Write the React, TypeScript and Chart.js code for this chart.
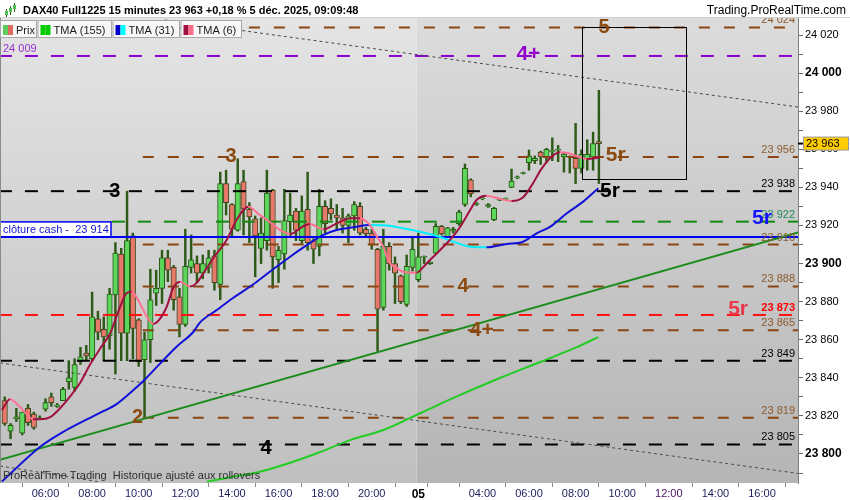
import React, { useEffect, useRef } from 'react';
import { Chart, registerables } from 'chart.js';

Chart.register(...registerables);

const FONT = 'Arial, "Liberation Sans", Helvetica, sans-serif';

// 15-minute bars. Index 0 = 4 Dec 04:15 ... index 70 = 21:45; index 71 = 5 Dec 01:15 ... index 102 = 09:00
const opens = [
  23828, 23812, 23818.5, 23811, 23824, 23821, 23818.5, 23823.5, 23830, 23825,
  23828, 23838, 23835, 23848.5, 23853, 23850, 23871, 23865.5, 23862, 23883.5,
  23905, 23863.5, 23914.5, 23870.5, 23849.5, 23860, 23884.5, 23887, 23903, 23898,
  23882.5, 23868, 23898, 23900, 23895, 23898, 23904, 23889, 23942, 23931,
  23917.5, 23943, 23928.5, 23923.5, 23908, 23912, 23938.5, 23902, 23905, 23922,
  23927.5, 23912, 23928.5, 23912, 23909, 23930, 23929, 23925.5, 23924, 23920,
  23925, 23930, 23918, 23916, 23907.5, 23877, 23909, 23900, 23893.5, 23878.5,
  23898, 23891.5, 23903.3, 23900, 23905.5, 23919.5, 23914, 23917, 23921, 23931,
  23944, 23931, 23934, 23930, 23923, 23933.3, 23933.8, 23940, 23945, 23947.3,
  23953, 23954, 23958.5, 23956, 23958.8, 23959.5, 23956, 23955.8, 23955.3, 23950,
  23955, 23956, 23964,
];
const highs = [
  23830, 23816, 23824, 23822, 23826, 23822, 23820, 23829, 23832, 23826.5,
  23835, 23849, 23850, 23856, 23857, 23885, 23875, 23872, 23887, 23911,
  23908, 23938, 23916, 23871, 23864, 23897, 23896.5, 23907, 23907, 23899,
  23887, 23918, 23915, 23904, 23904.5, 23907, 23907, 23948, 23949, 23931.5,
  23955, 23949, 23932, 23925, 23924, 23949, 23939, 23909, 23939, 23937,
  23929, 23935.5, 23948, 23913, 23939, 23933, 23934, 23931, 23929, 23926,
  23932.5, 23932, 23919, 23918, 23908, 23918, 23911, 23903.5, 23894, 23904.5,
  23913.3, 23916, 23904, 23901, 23921, 23920, 23919, 23919, 23928, 23952.3,
  23944.5, 23932, 23935, 23931.5, 23929.5, 23934, 23934.5, 23949.6, 23946, 23948,
  23959.6, 23956.5, 23959, 23960.5, 23966, 23962, 23958, 23956.5, 23973.6, 23959.7,
  23965, 23969, 23991,
];
const lows = [
  23815, 23808, 23817, 23810, 23815, 23813, 23818, 23822.5, 23825, 23824.5,
  23828, 23834, 23833, 23847, 23849, 23849, 23860, 23849, 23855, 23842,
  23849, 23849, 23850, 23846, 23819, 23848, 23878, 23879, 23890.5, 23875.5,
  23861.5, 23867, 23895, 23890, 23892, 23895, 23886, 23881, 23925.5, 23914,
  23917, 23915, 23911, 23893, 23900, 23907, 23887, 23890, 23897, 23914,
  23912, 23910.5, 23907, 23900, 23904, 23916, 23923, 23917.5, 23916, 23911,
  23917.5, 23915, 23914, 23907.5, 23854, 23875.5, 23896.5, 23879, 23879, 23877.5,
  23896, 23890.5, 23900, 23899.5, 23905, 23915, 23914, 23916, 23920, 23930,
  23935, 23930.5, 23933.5, 23929.5, 23922.5, 23933, 23933.5, 23939.8, 23944.5, 23947,
  23949, 23952.5, 23952, 23953, 23954, 23953.5, 23948, 23947.5, 23942, 23947.5,
  23949, 23949, 23942,
];
const closes = [
  23816, 23815, 23819.5, 23822, 23816.5, 23814, 23819, 23827, 23827, 23825.8,
  23834, 23840, 23847, 23851, 23851.5, 23872, 23864, 23861.5, 23884, 23905.5,
  23863.5, 23912, 23866, 23848.5, 23860, 23881, 23887, 23903, 23896.5, 23881,
  23868, 23898.5, 23902, 23895, 23900, 23903, 23890, 23942, 23932, 23918,
  23942, 23928.5, 23924.5, 23914.5, 23916, 23937, 23903.5, 23907, 23922.5, 23925.5,
  23917.5, 23927.5, 23911, 23907.5, 23930, 23921, 23926, 23924, 23920, 23925,
  23931, 23916, 23915.5, 23910, 23876, 23909, 23900, 23895, 23880, 23898.5,
  23907.5, 23903.5, 23903.8, 23900.8, 23919.5, 23915.5, 23918.8, 23918, 23927, 23950,
  23936.5, 23931.5, 23934.5, 23931, 23929, 23933.8, 23934.3, 23943.3, 23945.5, 23947.8,
  23956.5, 23955.3, 23956, 23960, 23959.3, 23960, 23957.5, 23956.3, 23950, 23957.4,
  23957.4, 23963, 23963,
];

// Moving averages as [bar, price]
const tma6 = [
  [-0.5, 23823.1], [0.9, 23828.7], [2.6, 23824.8], [4.85, 23818.2], [6.1, 23818.2], [7.8, 23819.3],
  [9.5, 23824], [11.2, 23830.1], [12.9, 23837.1], [14.6, 23846.7], [16.4, 23855.5], [18.1, 23863.4],
  [19.8, 23877.3], [20.9, 23884.4], [21.8, 23885.2], [22.9, 23880.9], [24.4, 23872.1], [25.5, 23868.3],
  [26.5, 23870.4], [27.8, 23877.3], [28.9, 23887], [30.1, 23890.5], [31.8, 23888], [33, 23890],
  [34.1, 23894.9], [35.8, 23902.8], [38.1, 23912.4], [39.8, 23922.9], [41.8, 23929.8], [43.8, 23925.5],
  [45.5, 23921.8], [47.3, 23917.6], [49, 23915.5], [51.3, 23919.7], [52.4, 23920.8], [54.7, 23918],
  [57, 23921.1], [59.3, 23923.8], [61, 23923.8], [62.7, 23920.2], [63.9, 23914.1], [65, 23908.8],
  [65.9, 23901], [67, 23898.3], [68.4, 23895.7], [70.7, 23895.2], [71.9, 23898.3], [73, 23901.9],
  [74.2, 23905.4], [75.3, 23908.8], [76.7, 23913.3], [78.2, 23919.3], [79.9, 23928.1], [81, 23933.4],
  [82.7, 23935.6], [84.7, 23934.3], [87, 23932.8], [89, 23934.8], [90.5, 23941.2], [92.2, 23950],
  [93.9, 23956.1], [95.3, 23958.4], [96.8, 23957.9], [98.5, 23956.1], [99.9, 23954.9], [101.3, 23955.3],
  [102.2, 23956.1],
];
const tma31 = [
  [-0.5, 23785.5], [6.1, 23803.8], [10.6, 23812.6], [14.1, 23818.2], [16.4, 23821.7], [19.2, 23826.2],
  [22.1, 23833.6], [23.8, 23838.3], [26.7, 23847.6], [29.5, 23856.3], [32.4, 23864.2], [33.5, 23869],
  [36.4, 23875.6], [39.2, 23881.9], [43, 23889.8], [45.5, 23895.7], [49, 23903.6], [51.8, 23909.5],
  [54.7, 23915], [57, 23917.6], [59.8, 23919], [62.7, 23920.2], [65.6, 23920], [68.4, 23918.5],
  [71.3, 23916.7], [74.2, 23914.5], [77, 23911.5], [79.9, 23908.8], [82.7, 23908.5], [86.2, 23910.3],
  [88.8, 23911.2], [91.3, 23915.9], [93.6, 23919.3], [96.5, 23926.4], [99.3, 23932.5], [101.9, 23939.5],
];
const tma155 = [
  [34.7, 23785.5], [39.2, 23788.1], [43.8, 23790.7], [47.8, 23794.2], [53.6, 23800.4], [59.3, 23807.3],
  [65, 23812.6], [71.3, 23821.4], [78.2, 23831], [85, 23839.9], [91.9, 23848.3], [97.9, 23855.7],
  [101.9, 23861.4],
];

// Drawn trend lines as [bar, price] end points
const supportTrend = [[-0.8, 23797], [136.2, 23916.3]];
const lowerChannel = [[-0.8, 23847.8], [136.2, 23789.8]];
const upperChannel = [[27.5, 24027.9], [136.2, 23982.2]];
const cornerChannel = [[-0.8, 23793.7], [16.4, 23785.3]];

// Horizontal levels
const levelValues = [24024, 24009, 23956, 23938, 23922, 23914, 23910, 23888, 23873, 23865, 23849, 23819, 23805];
const levelKinds = ['brown', 'purple', 'brown', 'black', 'green', 'blue', 'brown', 'brown', 'red', 'brown', 'black', 'brown', 'black'];
const levelFromBar = [-1, -1, 23.7, -1, 18.4, -1, 23.7, 23.7, -1, 23.7, -1, 23.7, -1];

// Wave annotations
const noteTexts = ['3', '3', '2', '4', '4', '4+', '4+', '5', '5r', '5r', '5r', '5r'];
const noteBars = [18.9, 38.85, 22.8, 44.85, 78.7, 81.9, 89.9, 102.9, 104.9, 103.9, 130, 125.9];
const notePrices = [23938, 23956, 23819, 23803, 23888, 23865, 24010, 24024, 23957, 23938, 23924, 23876];
const noteKinds = ['black', 'brown', 'brown', 'black', 'brown', 'brown', 'purple', 'brown', 'brown', 'black', 'blue', 'red'];

// Zone box: bars and prices
const zoneBars = [99.1, 117];
const zonePrices = [23944.4, 24024];

const lastPrice = 23963;
const sessionSplitBar = 70.7;

const timeTickBars = [7, 15, 23, 31, 39, 47, 55, 63, 71, 74, 82, 90, 98, 106, 114, 122, 130];
const timeTickLabels = ['06:00', '08:00', '10:00', '12:00', '14:00', '16:00', '18:00', '20:00', '05', '', '04:00', '06:00', '08:00', '10:00', '12:00', '14:00', '16:00'];

const X_MIN = -0.6395;
const X_MAX = 136.18;
const Y_MIN = 23784.77;
const Y_MAX = 24028.93;

const LINE_COLORS: Record<string, string> = {
  brown: '#8b4513', purple: '#8a00cc', black: '#000000', green: '#138a13', blue: '#0000f0', red: '#ff1414',
};
const TAG_COLORS: Record<string, string> = {
  brown: '#8c5a2e', purple: '#9a30d0', black: '#000000', green: '#1f8a5a', blue: '#1414d0', red: '#ff0000',
};
const NOTE_COLORS: Record<string, string> = {
  brown: '#8b4a10', purple: '#9400cc', black: '#000000', blue: '#1414ff', red: '#e8384a',
};
const DASHES: Record<string, number[]> = {
  brown: [11, 14], purple: [13, 13], black: [13, 13], green: [13, 13], blue: [], red: [13, 13],
};

const CRIMSON = '#a01040';
const PINK = '#ff7094';
const BLUE = '#1010d8';
const CYAN = '#00f0ff';

const fmt = (v: number) => {
  const r = Math.round(v);
  return `${Math.floor(r / 1000)} ${String(r % 1000).padStart(3, '0')}`;
};

const bars = opens.map((_, i) => i);

const priceTicks: number[] = [];
for (let v = 23790; v <= 24020; v += 10) priceTicks.push(v);

const decor = {
  id: 'decor',
  beforeDraw(chart: any) {
    const { ctx, chartArea: a, scales } = chart;
    ctx.save();
    ctx.fillStyle = '#ffffff';
    ctx.fillRect(0, 0, chart.width, chart.height);
    const split = scales.x.getPixelForValue(sessionSplitBar);
    const g1 = ctx.createLinearGradient(0, a.top, 0, a.bottom);
    g1.addColorStop(0, '#e4e4e4');
    g1.addColorStop(1, '#bfbfbf');
    ctx.fillStyle = g1;
    ctx.fillRect(a.left, a.top, split - a.left, a.bottom - a.top);
    const g2 = ctx.createLinearGradient(0, a.top, 0, a.bottom);
    g2.addColorStop(0, '#dcdcdc');
    g2.addColorStop(1, '#b5b5b5');
    ctx.fillStyle = g2;
    ctx.fillRect(split, a.top, a.right - split, a.bottom - a.top);
    ctx.restore();
  },
  afterDraw(chart: any) {
    const { ctx, chartArea: a, scales } = chart;
    const px = (b: number) => scales.x.getPixelForValue(b);
    const py = (v: number) => scales.y.getPixelForValue(v);

    ctx.save();
    ctx.beginPath();
    ctx.rect(a.left, a.top, a.right - a.left, a.bottom - a.top);
    ctx.clip();

    // zone box
    ctx.strokeStyle = '#000';
    ctx.lineWidth = 1;
    const bx0 = Math.round(px(zoneBars[0])) + 0.5;
    const bx1 = Math.round(px(zoneBars[1])) + 0.5;
    const by0 = Math.round(py(zonePrices[1])) + 0.5;
    const by1 = Math.round(py(zonePrices[0])) + 0.5;
    ctx.strokeRect(bx0, by0, bx1 - bx0, by1 - by0);

    // level tags
    ctx.textBaseline = 'alphabetic';
    levelValues.forEach((v, i) => {
      const kind = levelKinds[i];
      const y = py(v);
      if (kind === 'purple') {
        ctx.font = `11px ${FONT}`;
        ctx.fillStyle = TAG_COLORS.purple;
        ctx.textAlign = 'left';
        ctx.fillText(fmt(v), a.left + 2, y - 4);
      } else if (kind === 'blue') {
        const w = 111;
        ctx.fillStyle = '#ffffff';
        ctx.fillRect(a.left - 1, y - 15, w, 14);
        ctx.strokeStyle = LINE_COLORS.blue;
        ctx.lineWidth = 1.5;
        ctx.strokeRect(a.left - 1, y - 15, w, 15);
        ctx.font = `11px ${FONT}`;
        ctx.fillStyle = TAG_COLORS.blue;
        ctx.textAlign = 'left';
        ctx.fillText(`clôture cash -  ${fmt(v)}`, a.left + 2, y - 4);
      } else {
        ctx.font = kind === 'red' ? `bold 11px ${FONT}` : `11px ${FONT}`;
        ctx.fillStyle = TAG_COLORS[kind];
        ctx.textAlign = 'right';
        ctx.fillText(fmt(v), a.right - 3, y - 4);
      }
    });

    // wave annotations
    ctx.textAlign = 'center';
    ctx.textBaseline = 'middle';
    noteTexts.forEach((t, i) => {
      ctx.font = `bold ${t.length > 1 ? 21 : 20}px ${FONT}`;
      ctx.fillStyle = NOTE_COLORS[noteKinds[i]];
      ctx.fillText(t, px(noteBars[i]), py(notePrices[i]));
    });

    // footer text
    ctx.textAlign = 'left';
    ctx.textBaseline = 'alphabetic';
    ctx.font = `11px ${FONT}`;
    ctx.fillStyle = '#2e2e2e';
    ctx.fillText('ProRealTime Trading  Historique ajusté aux rollovers', a.left + 2, a.bottom - 4);
    ctx.restore();

    // left frame
    ctx.save();
    ctx.strokeStyle = '#8a8a8a';
    ctx.lineWidth = 1;
    ctx.beginPath();
    ctx.moveTo(0.5, a.top);
    ctx.lineTo(0.5, a.bottom);
    ctx.stroke();

    // legend row
    const legend = [
      { x0: 0, x1: 37, label: 'Prix', c1: '#5ccc5c', c2: '#e06a62' },
      { x0: 37.5, x1: 112, label: 'TMA (155)', c1: '#00cc00', c2: '#00cc00' },
      { x0: 112.5, x1: 180, label: 'TMA (31)', c1: '#0000cc', c2: '#00ffff' },
      { x0: 180.5, x1: 242, label: 'TMA (6)', c1: CRIMSON, c2: '#ff6b8b' },
    ];
    ctx.font = `11px ${FONT}`;
    ctx.textAlign = 'left';
    ctx.textBaseline = 'alphabetic';
    legend.forEach((l) => {
      ctx.fillStyle = '#f7f7f7';
      ctx.fillRect(l.x0, 20, l.x1 - l.x0, 18);
      ctx.strokeStyle = '#a8a8a8';
      ctx.strokeRect(l.x0 + 0.5, 20.5, l.x1 - l.x0 - 1, 17);
      ctx.fillStyle = l.c1;
      ctx.fillRect(l.x0 + 3, 25, 5, 10);
      ctx.fillStyle = l.c2;
      ctx.fillRect(l.x0 + 8, 25, 5, 10);
      ctx.fillStyle = '#1a1a1a';
      ctx.fillText(l.label, l.x0 + 16, 33.5);
    });

    // title bar
    ctx.fillStyle = '#ffffff';
    ctx.fillRect(0, 0, chart.width, 18);
    ctx.strokeStyle = '#cfcfcf';
    ctx.beginPath();
    ctx.moveTo(0, 17.5);
    ctx.lineTo(chart.width, 17.5);
    ctx.stroke();
    const icon = [[6, 9, 17, 11, 15], [10, 6, 15, 8, 12], [14, 3, 12, 5, 9]];
    icon.forEach(([cx, hi, lo, top, bot]) => {
      ctx.strokeStyle = '#2d5a17';
      ctx.beginPath();
      ctx.moveTo(cx + 0.5, hi);
      ctx.lineTo(cx + 0.5, lo);
      ctx.stroke();
      ctx.fillStyle = '#4cc04c';
      ctx.fillRect(cx - 1, top, 3, bot - top);
    });
    ctx.fillStyle = '#000';
    ctx.font = `bold 11px ${FONT}`;
    ctx.fillText('DAX40 Full1225 15 minutes 23 963 +0,18 % 5 déc. 2025, 09:09:48', 23, 14);
    ctx.font = `12px ${FONT}`;
    ctx.textAlign = 'right';
    ctx.fillText('Trading.ProRealTime.com', 846, 14);

    // last price tag
    const ty = py(lastPrice);
    ctx.strokeStyle = '#000';
    ctx.lineWidth = 2;
    ctx.beginPath();
    ctx.moveTo(a.right, ty);
    ctx.lineTo(a.right + 5, ty);
    ctx.stroke();
    ctx.fillStyle = '#ffcc00';
    ctx.fillRect(803.5, ty - 6.5, 45, 13);
    ctx.strokeStyle = '#9a9a9a';
    ctx.lineWidth = 1;
    ctx.strokeRect(803.5, ty - 6.5, 45, 13);
    ctx.fillStyle = '#000';
    ctx.font = `11px ${FONT}`;
    ctx.textAlign = 'left';
    ctx.textBaseline = 'middle';
    ctx.fillText(fmt(lastPrice), 806, ty + 0.5);
    ctx.restore();
  },
};

const pts = (arr: number[][]) => arr.map(([b, v]) => ({ x: b, y: v }));

export default function App() {
  const ref = useRef<HTMLCanvasElement>(null);

  useEffect(() => {
    if (!ref.current) return;
    Chart.defaults.font.family = FONT;
    Chart.defaults.font.size = 11;

    const levelSets = levelValues.map((v, i) => ({
      type: 'line' as const,
      data: [{ x: levelFromBar[i], y: v }, { x: X_MAX + 1, y: v }],
      borderColor: LINE_COLORS[levelKinds[i]],
      borderWidth: 2,
      borderDash: DASHES[levelKinds[i]],
      pointRadius: 0,
      clip: 0,
      order: 5,
    }));

    const trendSet = (arr: number[][], color: string, width: number, dash: number[]) => ({
      type: 'line' as const,
      data: pts(arr),
      borderColor: color,
      borderWidth: width,
      borderDash: dash,
      pointRadius: 0,
      clip: 0,
      order: 4,
    });

    const chart = new Chart(ref.current, {
      type: 'bar',
      data: {
        datasets: [
          {
            type: 'bar',
            data: bars.map((i) => ({ x: i, y: [lows[i], highs[i]] })) as any,
            backgroundColor: '#2d5a17',
            barThickness: 1.8,
            grouped: false,
            order: 20,
          },
          {
            type: 'bar',
            data: bars.map((i) => ({ x: i, y: [opens[i], closes[i]] })) as any,
            backgroundColor: bars.map((i) => (closes[i] >= opens[i] ? '#5cd65c' : '#e8786c')),
            borderColor: bars.map((i) => (closes[i] >= opens[i] ? '#2a5a14' : '#3e4a1c')),
            borderWidth: 1,
            borderSkipped: false,
            barThickness: 5.4,
            grouped: false,
            order: 19,
          },
          ...levelSets,
          trendSet(supportTrend, '#1c8c1c', 2, []),
          trendSet(lowerChannel, '#4a4a4a', 1, [3, 3]),
          trendSet(upperChannel, '#4a4a4a', 1, [3, 3]),
          trendSet(cornerChannel, '#4a4a4a', 1, [3, 3]),
          {
            type: 'line',
            data: pts(tma155),
            borderColor: '#22cc22',
            borderWidth: 2,
            pointRadius: 0,
            cubicInterpolationMode: 'monotone',
            order: 3,
          },
          {
            type: 'line',
            data: pts(tma31),
            borderColor: BLUE,
            borderWidth: 2,
            pointRadius: 0,
            cubicInterpolationMode: 'monotone',
            segment: { borderColor: (c: any) => (c.p1.parsed.y >= c.p0.parsed.y ? BLUE : CYAN) },
            order: 2,
          },
          {
            type: 'line',
            data: pts(tma6),
            borderColor: CRIMSON,
            borderWidth: 2,
            pointRadius: 0,
            cubicInterpolationMode: 'monotone',
            segment: { borderColor: (c: any) => (c.p1.parsed.y >= c.p0.parsed.y ? CRIMSON : PINK) },
            order: 1,
          },
        ] as any,
      },
      options: {
        responsive: false,
        animation: false,
        devicePixelRatio: 1,
        events: [],
        layout: { padding: { top: 18, left: 1, right: 0, bottom: 0 } },
        plugins: { legend: { display: false }, tooltip: { enabled: false }, title: { display: false } },
        scales: {
          x: {
            type: 'linear',
            min: X_MIN,
            max: X_MAX,
            offset: false,
            grid: { display: true, drawOnChartArea: false, drawTicks: true, tickLength: 4, color: '#8a8a8a' },
            border: { display: false },
            afterBuildTicks: (s: any) => {
              s.ticks = timeTickBars.map((v) => ({ value: v }));
            },
            afterFit: (s: any) => {
              s.height = 17;
            },
            ticks: {
              autoSkip: false,
              maxRotation: 0,
              minRotation: 0,
              padding: 0,
              callback: (v: any) => {
                const k = timeTickBars.indexOf(Number(v));
                return k >= 0 ? timeTickLabels[k] : '';
              },
              font: (c: any) => (c.tick && c.tick.value === 71 ? { size: 12, weight: 'bold' } : { size: 11 }),
              color: (c: any) => {
                if (!c.tick) return '#1c1c5c';
                if (c.tick.value === 71) return '#000000';
                if (c.tick.value === 114) return '#4a1064';
                return '#1c1c5c';
              },
            },
          },
          y: {
            type: 'linear',
            position: 'right',
            min: Y_MIN,
            max: Y_MAX,
            grid: { display: true, drawOnChartArea: false, drawTicks: true, tickLength: 5, color: '#6a6a6a' },
            border: { display: true, color: '#808080' },
            afterBuildTicks: (s: any) => {
              s.ticks = priceTicks.map((v) => ({ value: v }));
            },
            afterFit: (s: any) => {
              s.width = 52;
            },
            ticks: {
              autoSkip: false,
              padding: 2,
              color: '#000',
              callback: (v: any) => (Number(v) % 20 === 0 ? fmt(Number(v)) : ''),
              font: (c: any) => (c.tick && c.tick.value % 100 === 0 ? { size: 12, weight: 'bold' } : { size: 11 }),
            },
          },
        },
      } as any,
      plugins: [decor],
    });

    return () => chart.destroy();
  }, []);

  return (
    <div style={{ position: 'fixed', left: 0, top: 0, width: 850, height: 500, background: '#fff' }}>
      <canvas ref={ref} width={850} height={500} style={{ display: 'block', width: 850, height: 500 }} />
    </div>
  );
}
